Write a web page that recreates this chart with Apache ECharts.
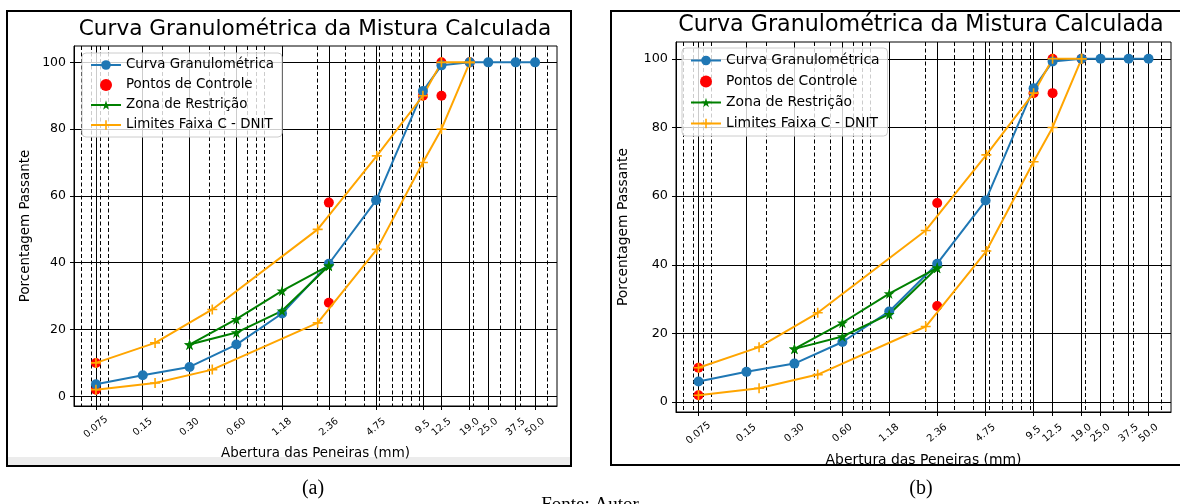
<!DOCTYPE html>
<html lang="pt">
<head>
<meta charset="UTF-8">
<title>Curva Granulométrica da Mistura Calculada</title>
<script src="https://cdn.jsdelivr.net/npm/echarts@6/dist/echarts.min.js"></script>
<style>
    html, body { margin: 0; background: #fff; }
    #chart { width: 1180px; height: 504px; }
</style>
</head>
<body>
<div id="chart"></div>
<script>
// peneiras (mm) e rótulos do eixo x
var sieves = [0.075, 0.15, 0.30, 0.60, 1.18, 2.36, 4.75, 9.5, 12.5, 19.0, 25.0, 37.5, 50.0];
var sieveLabels = ['0.075', '0.15', '0.30', '0.60', '1.18', '2.36', '4.75', '9.5', '12.5', '19.0', '25.0', '37.5', '50.0'];
// linhas secundárias (tracejadas) da escala log
var minorGrid = [0.06, 0.07, 0.08, 0.09, 0.2, 0.3, 0.4, 0.5, 0.6, 0.7, 0.8, 0.9,
    2, 3, 4, 5, 6, 7, 8, 9, 20, 30, 40, 50, 60];
var yTicks = [0, 20, 40, 60, 80, 100];

// curva granulométrica: (a) e (b)
var passingA = [3.6, 6.3, 8.8, 15.5, 24.8, 39.7, 58.7, 91.4, 99.1, 100, 100, 100, 100];
var passingB = [6.0, 8.8, 11.2, 17.5, 26.4, 40.3, 58.7, 91.4, 99.2, 100, 100, 100, 100];

// pontos de controle
var controlSieves = [19.0, 12.5, 12.5, 9.5, 2.36, 2.36, 0.075, 0.075];
var controlValues = [100, 100, 90, 90, 58, 28, 10, 2];

// zona de restrição
var restrictSieves = [0.30, 0.60, 1.18, 2.36];
var restrictLower = [15.5, 19.1, 25.6, 39.1];
var restrictUpper = [15.5, 23.1, 31.6, 39.1];

// limites faixa C - DNIT
var dnitSieves = [0.075, 0.18, 0.42, 2.0, 4.8, 9.5, 12.5, 19.0];
var dnitUpper = [10, 16, 26, 50, 72, 90, 100, 100];
var dnitLower = [2, 4, 8, 22, 44, 70, 80, 100];

var X_MIN = -1.266, X_MAX = 1.840;   // log10(mm)
var Y_MIN = -2.9, Y_MAX = 104.9;
var FONT = '"DejaVu Sans", sans-serif';
var STAR = 'path://M50,0 L61,35 L98,35 L68,57 L79,91 L50,70 L21,91 L32,57 L2,35 L39,35 Z';
var PLUS = 'path://M42,0 H58 V42 H100 V58 H58 V100 H42 V58 H0 V42 H42 Z';
var NAMES = ['Curva Granulométrica', 'Pontos de Controle', 'Zona de Restrição', 'Limites Faixa C - DNIT'];

var lg = function (v) { return Math.log10(v); };
function pts(xs, ys) {
    return xs.map(function (x, i) { return [lg(x), ys[i]]; });
}
function sieveLabel(v) {
    for (var i = 0; i < sieves.length; i++) {
        if (Math.abs(lg(sieves[i]) - v) < 1e-6) return sieveLabels[i];
    }
    return '';
}

var panels = [
    { grid: { left: 74, top: 46, width: 483, height: 360 }, passing: passingA,
      title: { left: 315, top: 18, size: 21.6 }, legend: { left: 82, top: 53, lh: 14 },
      tick: 12.5, xtick: 9.8, text: 13.4, xGap: 39, yGap: 42 },
    { grid: { left: 676, top: 42, width: 495, height: 370 }, passing: passingB,
      title: { left: 921, top: 14, size: 22.2 }, legend: { left: 682, top: 48, lh: 15 },
      tick: 12.8, xtick: 10, text: 13.9, xGap: 41, yGap: 46 }
];

var option = {
    animation: false,
    backgroundColor: '#fff',
    title: [], legend: [], grid: [], xAxis: [], yAxis: [], series: [],
    graphic: [
        { type: 'rect', z: -10, shape: { x: 8, y: 457, width: 562, height: 8 }, style: { fill: '#ececec' } },
        { type: 'rect', shape: { x: 7, y: 11, width: 564, height: 455 }, style: { fill: 'none', stroke: '#000', lineWidth: 2 } },
        { type: 'rect', shape: { x: 611, y: 11, width: 580, height: 454 }, style: { fill: 'none', stroke: '#000', lineWidth: 2 } },
        { type: 'text', x: 313, y: 489, style: { text: '(a)', align: 'center', verticalAlign: 'middle', font: '20px "Liberation Serif", serif', fill: '#000' } },
        { type: 'text', x: 921, y: 489, style: { text: '(b)', align: 'center', verticalAlign: 'middle', font: '20px "Liberation Serif", serif', fill: '#000' } },
        { type: 'text', x: 590, y: 496, style: { text: 'Fonte: Autor', align: 'center', verticalAlign: 'top', font: '19px "Liberation Serif", serif', fill: '#000' } }
    ]
};

panels.forEach(function (p, g) {
    option.title.push({
        text: 'Curva Granulométrica da Mistura Calculada',
        left: p.title.left, top: p.title.top, textAlign: 'center', padding: 0,
        textStyle: { fontFamily: FONT, fontWeight: 'normal', fontSize: p.title.size, color: '#000' }
    });
    option.legend.push({
        orient: 'vertical', left: p.legend.left, top: p.legend.top,
        padding: [5, 8], itemWidth: 30, itemHeight: 12, itemGap: 6,
        backgroundColor: 'rgba(255,255,255,0.8)', borderColor: '#cccccc', borderWidth: 1, borderRadius: 4,
        selectedMode: false,
        textStyle: { fontFamily: FONT, fontSize: p.text, lineHeight: p.legend.lh, color: '#000' },
        data: NAMES
    });
    option.grid.push({
        left: p.grid.left, top: p.grid.top, width: p.grid.width, height: p.grid.height,
        show: true, borderColor: '#000', borderWidth: 1, backgroundColor: '#fff'
    });
    // eixo principal com as peneiras
    option.xAxis.push({
        type: 'value', gridIndex: g, min: X_MIN, max: X_MAX, position: 'bottom',
        name: 'Abertura das Peneiras (mm)', nameLocation: 'middle', nameGap: p.xGap,
        nameTextStyle: { fontFamily: FONT, fontSize: p.text, color: '#000' },
        axisLine: { show: true, onZero: false, lineStyle: { color: '#000', width: 1 } },
        axisTick: { show: true, length: 4, customValues: sieves.map(lg), lineStyle: { color: '#000' } },
        axisLabel: {
            customValues: sieves.map(lg), formatter: sieveLabel,
            rotate: 40, align: 'center', verticalAlign: 'middle', margin: 21,
            fontFamily: FONT, fontSize: p.xtick, color: '#000'
        },
        splitLine: { show: true, lineStyle: { color: '#000', width: 1 } }
    });
    // eixo auxiliar para as linhas tracejadas
    option.xAxis.push({
        type: 'value', gridIndex: g, min: X_MIN, max: X_MAX, position: 'top',
        axisLine: { show: false },
        axisTick: { show: false, customValues: minorGrid.map(lg) },
        axisLabel: { show: false },
        splitLine: { show: true, lineStyle: { color: '#000', width: 1, type: [4, 2.5] } }
    });
    option.yAxis.push({
        type: 'value', gridIndex: g, min: Y_MIN, max: Y_MAX,
        name: 'Porcentagem Passante', nameLocation: 'middle', nameGap: p.yGap,
        nameTextStyle: { fontFamily: FONT, fontSize: p.text, color: '#000' },
        axisLine: { show: true, onZero: false, lineStyle: { color: '#000', width: 1 } },
        axisTick: { show: true, length: 4, customValues: yTicks, lineStyle: { color: '#000' } },
        axisLabel: { customValues: yTicks, margin: 8, fontFamily: FONT, fontSize: p.tick, color: '#000' },
        splitLine: { show: true, lineStyle: { color: '#000', width: 1 } }
    });

    var xi = 2 * g, yi = g;
    option.series.push(
        { name: NAMES[0], type: 'line', xAxisIndex: xi, yAxisIndex: yi, data: pts(sieves, p.passing),
          color: '#1f77b4', symbol: 'circle', symbolSize: 10, showAllSymbol: true,
          lineStyle: { width: 2 } },
        { name: NAMES[1], type: 'scatter', xAxisIndex: xi, yAxisIndex: yi, data: pts(controlSieves, controlValues),
          color: '#ff0000', symbol: 'circle', symbolSize: 10, itemStyle: { opacity: 1 } },
        { name: NAMES[2], type: 'line', xAxisIndex: xi, yAxisIndex: yi, data: pts(restrictSieves, restrictLower),
          color: '#008000', symbol: STAR, symbolSize: 11, lineStyle: { width: 2 } },
        { name: NAMES[2], type: 'line', xAxisIndex: xi, yAxisIndex: yi, data: pts(restrictSieves, restrictUpper),
          color: '#008000', symbol: STAR, symbolSize: 11, lineStyle: { width: 2 } },
        { name: NAMES[3], type: 'line', xAxisIndex: xi, yAxisIndex: yi, data: pts(dnitSieves, dnitUpper),
          color: '#ffa500', symbol: PLUS, symbolSize: 10, lineStyle: { width: 2 } },
        { name: NAMES[3], type: 'line', xAxisIndex: xi, yAxisIndex: yi, data: pts(dnitSieves, dnitLower),
          color: '#ffa500', symbol: PLUS, symbolSize: 10, lineStyle: { width: 2 } }
    );
});

var myChart = echarts.init(document.getElementById('chart'), null, { renderer: 'canvas' });
myChart.setOption(option);
window.addEventListener('resize', myChart.resize);
</script>
</body>
</html>
